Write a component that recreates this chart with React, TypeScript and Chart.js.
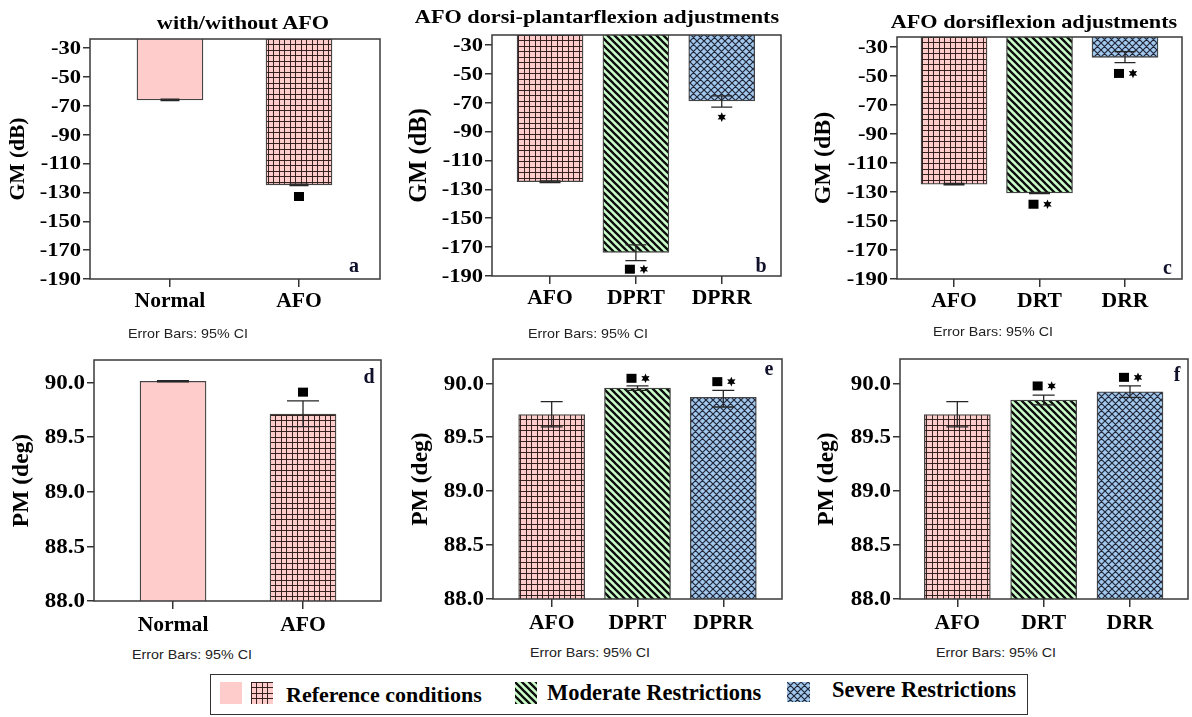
import React, { useEffect, useRef } from 'react';
import { Chart, registerables } from 'chart.js';

Chart.register(...registerables);

const SERIF = '"Liberation Serif", "Times New Roman", Times, serif';
const SANS = '"Liberation Sans", Arial, Helvetica, sans-serif';

Chart.defaults.font.family = SERIF;
Chart.defaults.color = '#000';

const PINK = '#FFCCCC';
const GREEN = '#CCFFCC';
const BLUE = '#A3C8EE';

// ---------------- data ----------------
const catsA = ['Normal', 'AFO'];
const catsB = ['AFO', 'DPRT', 'DPRR'];
const catsC = ['AFO', 'DRT', 'DRR'];

const gmTicks = [-190, -170, -150, -130, -110, -90, -70, -50, -30];
const pmTicks = [88.0, 88.5, 89.0, 89.5, 90.0];

// panel a : GM with/without AFO
const gmA = [-65.8, -124.7];
const gmALow = [-66.3, -125.2];
const gmAHigh = [-65.3, -124.2];
const gmAMarkY = [NaN, -132.8];
const gmAMarks = ['', 'sq'];

// panel b : GM dorsi-plantarflexion
const gmB = [-124.7, -173.6, -68.8];
const gmBLow = [-125.3, -179.3, -73.1];
const gmBHigh = [-124.1, -168.5, -65.3];
const gmBMarkY = [NaN, -185.3, -80.0];
const gmBMarks = ['', 'sqst', 'st'];

// panel c : GM dorsiflexion
const gmC = [-124.7, -130.7, -37.3];
const gmCLow = [-125.2, -131.1, -41.0];
const gmCHigh = [-124.2, -130.3, -33.4];
const gmCMarkY = [NaN, -138.5, -48.4];
const gmCMarks = ['', 'sqst', 'sqst'];

// panel d : PM with/without AFO
const pmD = [90.01, 89.71];
const pmDLow = [90.005, 89.595];
const pmDHigh = [90.015, 89.83];
const pmDMarkY = [NaN, 89.91];
const pmDMarks = ['', 'sq'];

// panel e : PM dorsi-plantarflexion
const pmE = [89.71, 89.955, 89.87];
const pmELow = [89.595, 89.935, 89.78];
const pmEHigh = [89.83, 89.975, 89.935];
const pmEMarkY = [NaN, 90.046, 90.015];
const pmEMarks = ['', 'sqst', 'sqst'];

// panel f : PM dorsiflexion
const pmF = [89.71, 89.845, 89.92];
const pmFLow = [89.595, 89.8, 89.87];
const pmFHigh = [89.83, 89.89, 89.975];
const pmFMarkY = [NaN, 89.975, 90.055];
const pmFMarks = ['', 'sqst', 'sqst'];

const fills2 = ['solid', 'grid'];
const fills3 = ['grid', 'diag', 'cross'];

const fmtInt = (v: number) => String(v);
const fmtOne = (v: number) => Number(v).toFixed(1);

type Panel = {
  cats: string[]; values: number[]; low: number[]; high: number[];
  markY: number[]; marks: string[]; fills: string[];
  yTicks: number[]; yTitle: string; yMin: number; yMax: number;
  xMin: number; xMax: number;
  plot: { l: number; t: number; r: number; b: number };
  titleCX: number; titleSize: number; tickSize: number; tickSX: number; xLabDY: number; cap: number;
  fmt: (v: number) => string;
};

const panels: Panel[] = [
  { cats: catsA, values: gmA, low: gmALow, high: gmAHigh, markY: gmAMarkY, marks: gmAMarks, fills: fills2,
    yTicks: gmTicks, yTitle: 'GM (dB)', yMin: -190, yMax: -23.6, xMin: -0.62, xMax: 1.628,
    plot: { l: 90, t: 39, r: 380, b: 279 }, titleCX: 19, titleSize: 21.5, tickSize: 18.5, tickSX: 1.22, xLabDY: 23, cap: 19, fmt: fmtInt },
  { cats: catsB, values: gmB, low: gmBLow, high: gmBHigh, markY: gmBMarkY, marks: gmBMarks, fills: fills3,
    yTicks: gmTicks, yTitle: 'GM (dB)', yMin: -190, yMax: -23.1, xMin: -0.676, xMax: 2.69,
    plot: { l: 492, t: 35, r: 781, b: 276 }, titleCX: 420, titleSize: 24.5, tickSize: 18.5, tickSX: 1.22, xLabDY: 23, cap: 21, fmt: fmtInt },
  { cats: catsC, values: gmC, low: gmCLow, high: gmCHigh, markY: gmCMarkY, marks: gmCMarks, fills: fills3,
    yTicks: gmTicks, yTitle: 'GM (dB)', yMin: -190, yMax: -23.3, xMin: -0.667, xMax: 2.667,
    plot: { l: 897, t: 37, r: 1182, b: 279 }, titleCX: 823, titleSize: 24, tickSize: 18.5, tickSX: 1.22, xLabDY: 23, cap: 21, fmt: fmtInt },
  { cats: catsA, values: pmD, low: pmDLow, high: pmDHigh, markY: pmDMarkY, marks: pmDMarks, fills: fills2,
    yTicks: pmTicks, yTitle: 'PM (deg)', yMin: 88, yMax: 90.204, xMin: -0.608, xMax: 1.6,
    plot: { l: 94, t: 360, r: 381, b: 601 }, titleCX: 22, titleSize: 23.5, tickSize: 20.5, tickSX: 1.12, xLabDY: 24.5, cap: 32, fmt: fmtOne },
  { cats: catsB, values: pmE, low: pmELow, high: pmEHigh, markY: pmEMarkY, marks: pmEMarks, fills: fills3,
    yTicks: pmTicks, yTitle: 'PM (deg)', yMin: 88, yMax: 90.225, xMin: -0.684, xMax: 2.684,
    plot: { l: 493, t: 359, r: 782, b: 599 }, titleCX: 421, titleSize: 23.5, tickSize: 20.5, tickSX: 1.12, xLabDY: 24.5, cap: 22, fmt: fmtOne },
  { cats: catsC, values: pmF, low: pmFLow, high: pmFHigh, markY: pmFMarkY, marks: pmFMarks, fills: fills3,
    yTicks: pmTicks, yTitle: 'PM (deg)', yMin: 88, yMax: 90.225, xMin: -0.664, xMax: 2.672,
    plot: { l: 900, t: 359, r: 1188, b: 599 }, titleCX: 827, titleSize: 23.5, tickSize: 20.5, tickSX: 1.12, xLabDY: 24.5, cap: 22, fmt: fmtOne },
];

// ---------------- fills ----------------
function makeFill(ctx: CanvasRenderingContext2D, kind: string): any {
  if (kind === 'solid') return PINK;
  const t = document.createElement('canvas');
  const g = t.getContext('2d')!;
  if (kind === 'grid') {
    const s = 11;
    t.width = s; t.height = s;
    g.fillStyle = PINK; g.fillRect(0, 0, s, s);
    g.fillStyle = 'rgba(45,25,25,0.95)';
    g.fillRect(0, 0, s, 1); g.fillRect(0, 5, s, 1);
    g.fillRect(0, 0, 1, s); g.fillRect(5, 0, 1, s);
  } else if (kind === 'diag') {
    const s = 7;
    t.width = s; t.height = s;
    g.fillStyle = GREEN; g.fillRect(0, 0, s, s);
    g.strokeStyle = '#0d0d0d'; g.lineWidth = 2.3;
    g.beginPath();
    for (const k of [-s, 0, s]) { g.moveTo(k - 2, -2); g.lineTo(k + s + 2, s + 2); }
    g.stroke();
  } else {
    const s = 7;
    t.width = s; t.height = s;
    g.fillStyle = BLUE; g.fillRect(0, 0, s, s);
    g.strokeStyle = 'rgba(25,30,45,0.95)'; g.lineWidth = 1.2;
    g.beginPath();
    for (const k of [-s, 0, s]) {
      g.moveTo(k - 2, -2); g.lineTo(k + s + 2, s + 2);
      g.moveTo(k - 2, s + 2); g.lineTo(k + s + 2, -2);
    }
    g.stroke();
  }
  return ctx.createPattern(t, 'repeat');
}

function drawSquare(ctx: CanvasRenderingContext2D, x: number, y: number) {
  ctx.fillRect(x - 5, y - 4.5, 10, 9);
}
function drawStar(ctx: CanvasRenderingContext2D, x: number, y: number) {
  const ro = 4.8, ri = 2.4;
  ctx.beginPath();
  for (let k = 0; k < 12; k++) {
    const r = k % 2 === 0 ? ro : ri;
    const a = -Math.PI / 2 + (k * Math.PI) / 6;
    const px = x + r * Math.cos(a), py = y + r * Math.sin(a);
    if (k === 0) ctx.moveTo(px, py); else ctx.lineTo(px, py);
  }
  ctx.closePath();
  ctx.fill();
}

function stretchText(ctx: CanvasRenderingContext2D, text: string, x: number, y: number, sx: number, align: CanvasTextAlign) {
  ctx.save();
  ctx.translate(x, y);
  ctx.scale(sx, 1);
  ctx.textAlign = align;
  ctx.textBaseline = 'middle';
  ctx.fillText(text, 0, 0);
  ctx.restore();
}

function overlay(cfg: Panel) {
  return {
    id: 'overlay',
    afterDatasetsDraw(chart: any) {
      const { ctx, chartArea: a } = chart;
      const x = chart.scales.x, y = chart.scales.y;
      ctx.save();
      // error bars
      ctx.strokeStyle = '#262626';
      ctx.lineWidth = 1.3;
      cfg.values.forEach((_v, i) => {
        const px = x.getPixelForValue(i);
        const yl = y.getPixelForValue(cfg.low[i]);
        const yh = y.getPixelForValue(cfg.high[i]);
        const hw = cfg.cap / 2;
        ctx.beginPath();
        ctx.moveTo(px, yl); ctx.lineTo(px, yh);
        ctx.moveTo(px - hw, yl); ctx.lineTo(px + hw, yl);
        ctx.moveTo(px - hw, yh); ctx.lineTo(px + hw, yh);
        ctx.stroke();
      });
      // frame
      ctx.strokeStyle = '#3a3a3a';
      ctx.lineWidth = 1.5;
      ctx.strokeRect(a.left, a.top, a.right - a.left, a.bottom - a.top);
      // significance markers
      ctx.fillStyle = '#000';
      cfg.marks.forEach((m, i) => {
        if (!m) return;
        const px = x.getPixelForValue(i);
        const py = y.getPixelForValue(cfg.markY[i]);
        if (m === 'sq') drawSquare(ctx, px, py);
        else if (m === 'st') drawStar(ctx, px, py);
        else { drawSquare(ctx, px - 6, py); drawStar(ctx, px + 8, py); }
      });
      // tick labels (positioned by the scales)
      ctx.fillStyle = '#000';
      ctx.font = `bold ${cfg.tickSize}px ${SERIF}`;
      cfg.yTicks.forEach((v) => {
        stretchText(ctx, cfg.fmt(v), a.left - 9, y.getPixelForValue(v) + 1, cfg.tickSX, 'right');
      });
      ctx.font = `bold 20px ${SERIF}`;
      cfg.cats.forEach((c, i) => {
        stretchText(ctx, c, x.getPixelForValue(i), a.bottom + cfg.xLabDY, 1.08, 'center');
      });
      ctx.restore();
    },
  };
}

function PanelChart({ cfg }: { cfg: Panel }) {
  const ref = useRef<HTMLCanvasElement>(null);
  const lh = cfg.titleSize * 1.2;
  const cLeft = Math.round(cfg.titleCX - (lh / 2 + 2));
  const cTop = cfg.plot.t - 22;
  const cRight = Math.min(cfg.plot.r + 6, 1192);
  const cBottom = cfg.plot.b + 42;
  const cw = cRight - cLeft;
  const ch = cBottom - cTop;
  const yW = cfg.plot.l - cLeft;
  const xH = cBottom - cfg.plot.b;

  useEffect(() => {
    const canvas = ref.current!;
    const ctx = canvas.getContext('2d')!;
    const chart = new Chart(canvas, {
      type: 'bar',
      data: {
        datasets: [{
          data: cfg.values.map((v, i) => ({ x: i, y: v })),
          backgroundColor: cfg.fills.map((k) => makeFill(ctx, k)),
          borderColor: '#444',
          borderWidth: 1.3,
          barThickness: 66,
          clip: 0,
        } as any],
      },
      options: {
        responsive: false,
        animation: false,
        events: [],
        layout: { padding: { top: cfg.plot.t - cTop, right: cRight - cfg.plot.r, left: 0, bottom: 0 } },
        plugins: { legend: { display: false }, tooltip: { enabled: false }, title: { display: false } },
        scales: {
          x: {
            type: 'linear',
            offset: false,
            min: cfg.xMin,
            max: cfg.xMax,
            afterBuildTicks: (s: any) => { s.ticks = cfg.cats.map((_c, i) => ({ value: i })); },
            afterFit: (s: any) => { s.height = xH; },
            ticks: { display: false },
            grid: { offset: false, drawOnChartArea: false, drawTicks: true, tickLength: 8, color: '#333', lineWidth: 1.5 },
            border: { display: false },
          },
          y: {
            type: 'linear',
            min: cfg.yMin,
            max: cfg.yMax,
            afterBuildTicks: (s: any) => { s.ticks = cfg.yTicks.map((v) => ({ value: v })); },
            afterFit: (s: any) => { s.width = yW; },
            ticks: { display: false },
            grid: { drawOnChartArea: false, drawTicks: true, tickLength: 7, color: '#333', lineWidth: 1.5 },
            border: { display: false },
            title: {
              display: true, text: cfg.yTitle, color: '#000',
              font: { family: SERIF, size: cfg.titleSize, weight: 'bold' },
              padding: { top: 2, bottom: 0 },
            },
          },
        },
      } as any,
      plugins: [overlay(cfg)],
    });
    return () => chart.destroy();
  }, []);

  return (
    <canvas
      ref={ref}
      width={cw}
      height={ch}
      style={{ position: 'absolute', left: cLeft, top: cTop, width: cw, height: ch }}
    />
  );
}

function Swatch({ kind, x, y, w, h }: { kind: string; x: number; y: number; w: number; h: number }) {
  const ref = useRef<HTMLCanvasElement>(null);
  useEffect(() => {
    const c = ref.current!;
    const ctx = c.getContext('2d')!;
    ctx.clearRect(0, 0, w, h);
    ctx.fillStyle = makeFill(ctx, kind);
    ctx.fillRect(0, 0, w, h);
  }, []);
  return <canvas ref={ref} width={w} height={h} style={{ position: 'absolute', left: x, top: y, width: w, height: h }} />;
}

function Txt({ x, y, size, family, sx = 1, color = '#000', weight = 'bold', anchor = 'center', children }: any) {
  const tx = anchor === 'left' ? '0' : '-50%';
  return (
    <div
      style={{
        position: 'absolute', left: x, top: y, whiteSpace: 'nowrap', lineHeight: 1,
        fontFamily: family, fontSize: size, fontWeight: weight, color,
        transform: `translate(${tx}, -50%) scaleX(${sx})`,
        transformOrigin: anchor === 'left' ? '0 50%' : '50% 50%',
      }}
    >
      {children}
    </div>
  );
}

const titles = [
  { text: 'with/without AFO', x: 243, y: 22 },
  { text: 'AFO dorsi-plantarflexion adjustments', x: 597, y: 15.5 },
  { text: 'AFO dorsiflexion adjustments', x: 1034, y: 21 },
];
const notes = [
  { x: 188, y: 333 }, { x: 588, y: 333 }, { x: 992.5, y: 331 },
  { x: 191.5, y: 654 }, { x: 590, y: 652 }, { x: 996, y: 652 },
];
const letters = [
  { t: 'a', x: 354, y: 265 }, { t: 'b', x: 761, y: 265 }, { t: 'c', x: 1167.5, y: 267 },
  { t: 'd', x: 369, y: 376 }, { t: 'e', x: 769, y: 368 }, { t: 'f', x: 1177, y: 374 },
];

export default function App() {
  return (
    <div style={{ position: 'absolute', left: 0, top: 0, width: 1192, height: 717, background: '#fff', overflow: 'hidden' }}>
      {panels.map((p, i) => <PanelChart key={i} cfg={p} />)}
      {titles.map((t, i) => (
        <Txt key={'t' + i} x={t.x} y={t.y} size={19} family={SERIF} sx={1.17}>{t.text}</Txt>
      ))}
      {notes.map((n, i) => (
        <Txt key={'n' + i} x={n.x} y={n.y} size={13} family={SANS} sx={1.1} weight="normal" color="#222">Error Bars: 95% CI</Txt>
      ))}
      {letters.map((l, i) => (
        <Txt key={'l' + i} x={l.x} y={l.y} size={20} family={SERIF} color="#10102a">{l.t}</Txt>
      ))}
      {/* legend */}
      <div style={{ position: 'absolute', left: 210, top: 674, width: 818, height: 41, border: '1.5px solid #333', boxSizing: 'border-box' }} />
      <Swatch kind="solid" x={220} y={682} w={22} h={22} />
      <Swatch kind="grid" x={251} y={682} w={22} h={22} />
      <Txt x={286} y={694.5} size={22} family={SERIF} anchor="left">Reference conditions</Txt>
      <Swatch kind="diag" x={515} y={682} w={22} h={22} />
      <Txt x={547} y={692.5} size={22.5} family={SERIF} anchor="left">Moderate Restrictions</Txt>
      <Swatch kind="cross" x={787} y={682} w={23} h={20} />
      <Txt x={832} y={690} size={22.5} family={SERIF} anchor="left">Severe Restrictions</Txt>
    </div>
  );
}
